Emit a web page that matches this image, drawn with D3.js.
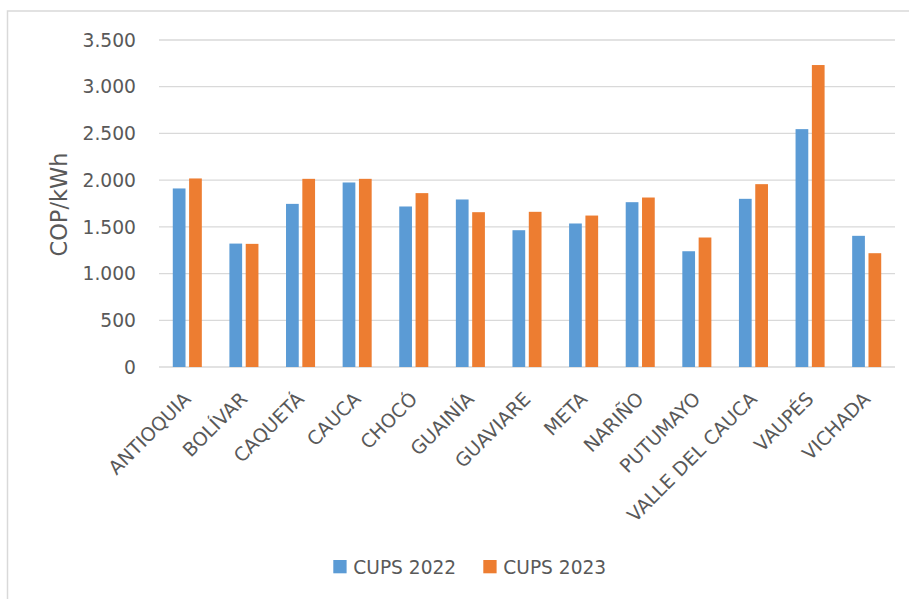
<html>

<head>
  <meta charset="utf-8">
  <script src="https://d3js.org/d3.v7.min.js"></script>
  <style>
    body { margin: 0; background: #fff; }
    text { font-family: "DejaVu Sans", sans-serif; fill: #595959; }
  </style>
</head>

<body>
  <svg id="chart" width="909" height="599"></svg>

  <script>
    const departments = ["ANTIOQUIA", "BOLÍVAR", "CAQUETÁ", "CAUCA", "CHOCÓ", "GUAINÍA", "GUAVIARE",
      "META", "NARIÑO", "PUTUMAYO", "VALLE DEL CAUCA", "VAUPÉS", "VICHADA"];
    const seriesNames = ["CUPS 2022", "CUPS 2023"];
    const cups2022 = [1911, 1321, 1746, 1975, 1718, 1793, 1464, 1536, 1764, 1239, 1800, 2546, 1404];
    const cups2023 = [2018, 1318, 2014, 2014, 1861, 1657, 1661, 1621, 1814, 1386, 1957, 3232, 1218];
    const yTicks = [0, 500, 1000, 1500, 2000, 2500, 3000, 3500];
    const colors = ["#5B9BD5", "#ED7D31"];

    const svg = d3.select("svg#chart");
    const plot = { left: 159, right: 895, top: 40, bottom: 367 };

    // chart frame
    svg.append("rect")
      .attr("x", 7.5).attr("y", 11)
      .attr("width", 1000).attr("height", 700)
      .attr("fill", "none").attr("stroke", "#d9d9d9").attr("stroke-width", 1.5);

    const x = d3.scaleBand().domain(departments).range([plot.left, plot.right]).paddingInner(0.487).paddingOuter(0.2435);
    const xInner = d3.scaleBand().domain(seriesNames).range([0, x.bandwidth()]).paddingInner(0.22);
    const y = d3.scaleLinear().domain([0, 3500]).range([plot.bottom, plot.top]);

    const fmt = d => d3.format(",")(d).replace(/,/g, ".");

    // gridlines
    svg.append("g")
      .selectAll("line")
      .data(yTicks)
      .join("line")
      .attr("x1", plot.left).attr("x2", plot.right)
      .attr("y1", d => y(d)).attr("y2", d => y(d))
      .attr("stroke", "#d9d9d9").attr("stroke-width", 1.3);

    svg.append("g")
      .selectAll("text")
      .data(yTicks)
      .join("text")
      .attr("x", 136)
      .attr("y", d => y(d))
      .attr("dy", "0.36em")
      .attr("text-anchor", "end")
      .attr("font-size", "18.7px")
      .text(fmt);

    svg.append("text")
      .attr("text-anchor", "middle")
      .attr("font-size", "22.5px")
      .attr("transform", `translate(67, ${(plot.top + plot.bottom) / 2 + 1}) rotate(-90)`)
      .text("COP/kWh");

    // bars
    const rows = departments.map((d, i) => ({ name: d, values: [cups2022[i], cups2023[i]] }));
    const groups = svg.append("g")
      .selectAll("g")
      .data(rows)
      .join("g")
      .attr("transform", d => `translate(${x(d.name)},0)`);

    groups.selectAll("rect")
      .data(d => d.values.map((v, k) => ({ key: seriesNames[k], value: v, k: k })))
      .join("rect")
      .attr("x", d => xInner(d.key))
      .attr("width", xInner.bandwidth())
      .attr("y", d => y(d.value))
      .attr("height", d => y(0) - y(d.value))
      .attr("fill", d => colors[d.k]);

    // x labels
    svg.append("g")
      .selectAll("text")
      .data(departments)
      .join("text")
      .attr("text-anchor", "end")
      .attr("dy", "0.35em")
      .attr("font-size", "19px")
      .attr("transform", d => `translate(${x(d) + x.bandwidth() / 2}, 395.5) rotate(-45)`)
      .text(d => d);

    // legend
    const legend = svg.append("g");
    const legendX = [333.3, 483.3];
    seriesNames.forEach((s, i) => {
      legend.append("rect")
        .attr("x", legendX[i]).attr("y", 560)
        .attr("width", 13.3).attr("height", 13.3)
        .attr("fill", colors[i]);
      legend.append("text")
        .attr("x", legendX[i] + 20).attr("y", 573.5)
        .attr("font-size", "18.6px")
        .text(s);
    });
  </script>

</body>

</html>
